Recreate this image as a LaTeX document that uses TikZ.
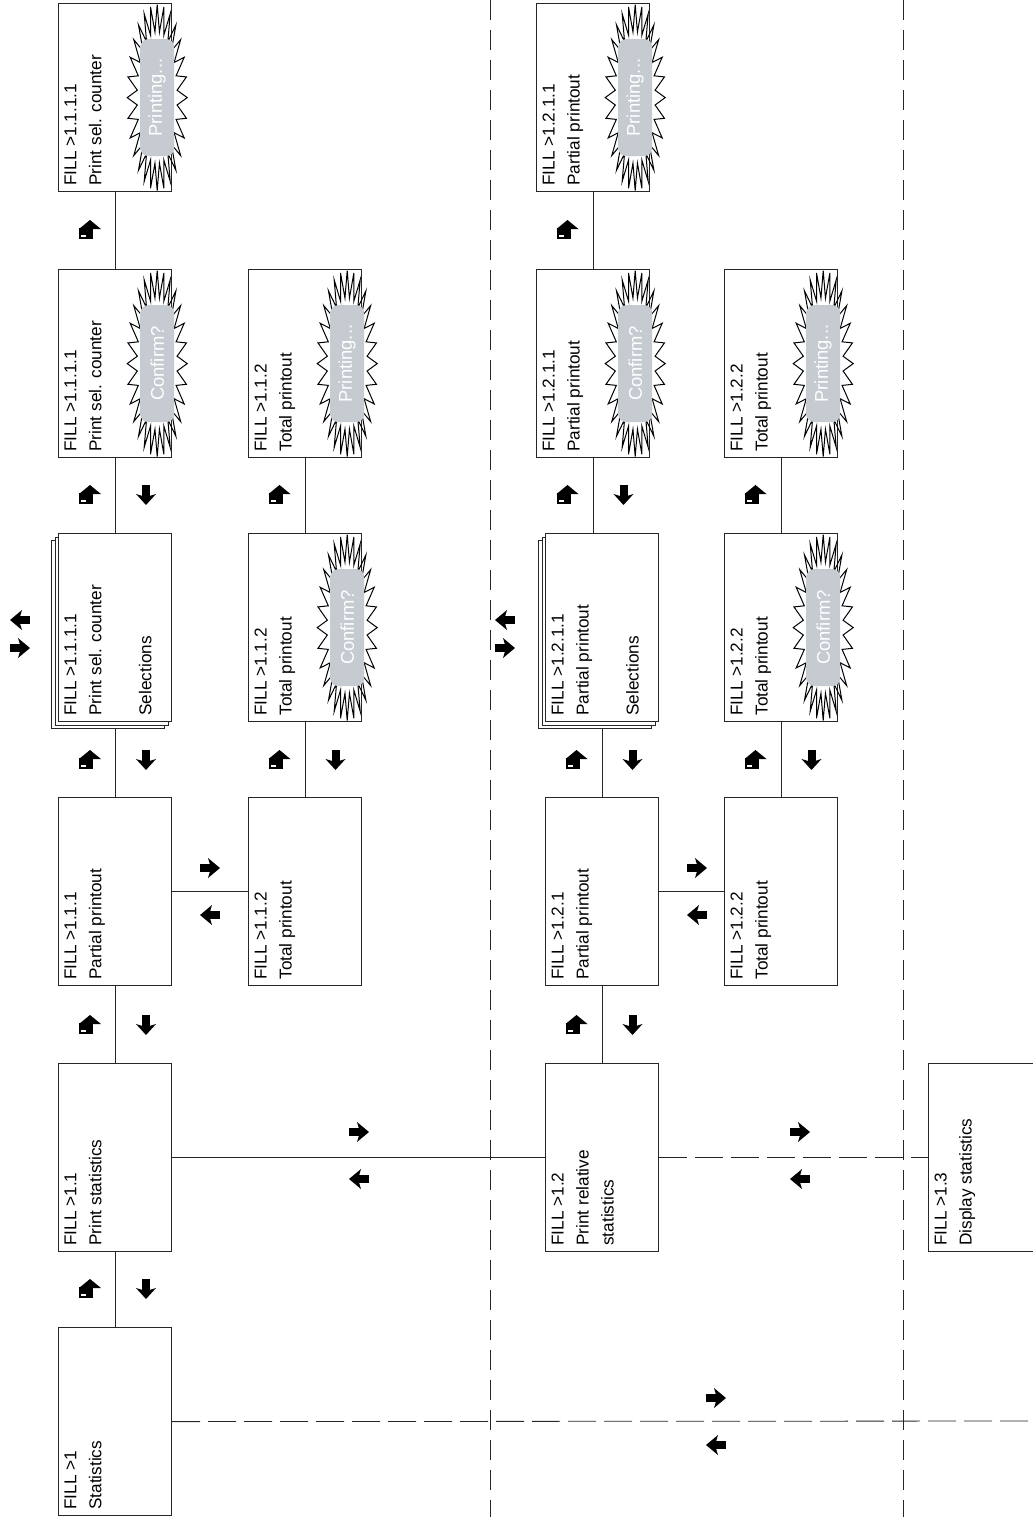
\documentclass[tikz,border=0pt]{standalone}
\usepackage{fontspec}
\setmainfont{Liberation Sans}
\usetikzlibrary{shadows,backgrounds}
\definecolor{pillgray}{RGB}{197,203,208}

\tikzset{
  % key symbols, drawn in pixel units (y runs down)
  rarr/.pic={\fill (-10,-4) rectangle (3,4); \fill (-2,-10) -- (10,0) -- (-2,10) -- (1,0) -- cycle;},
  larr/.pic={\fill (10,-4) rectangle (-3,4); \fill (2,-10) -- (-10,0) -- (2,10) -- (-1,0) -- cycle;},
  darr/.pic={\fill (-4,-10) rectangle (4,2); \fill (-10,-1) -- (0,10) -- (10,-1) -- (0,2) -- cycle;},
  entarr/.pic={\fill (-11,-1) -- (0,-10) -- (11,-1) -- cycle;
    \fill (-11,-2) rectangle (3,9); \fill[white] (-9,5) rectangle (-4,6.5);},
  burst/.pic={\draw[line width=0.5pt] (0:30 and 93)
      \foreach \i in {0,...,27} { -- ({\i*360/28+180/28}:20 and 66) -- ({(\i+1)*360/28}:30 and 93) } -- cycle;
    \node (-pill) [pill] {#1};}
}

\begin{document}
\begin{tikzpicture}[x=0.5pt, y=-0.5pt, line width=0.6pt,
  menubox/.style={draw=black!85, shape=rectangle, anchor=north west,
    minimum width=56.5pt, minimum height=94pt, inner sep=0pt},
  stackbox/.style={menubox, fill=white,
    double copy shadow={shadow xshift=-1.75pt, shadow yshift=-1.75pt}},
  lbl/.style={rotate=90, anchor=north west, align=left, inner sep=0pt,
    font=\fontsize{8.6}{12.5}\selectfont},
  pill/.style={rotate=90, fill=pillgray, rounded corners=4pt, minimum width=58.5pt,
    minimum height=17pt, inner sep=0pt, text=white, font=\fontsize{9.2}{10}\selectfont},
  link/.style={draw=black!85},
  dashlink/.style={draw=black!85, dash pattern=on 14pt off 4pt},
  sepline/.style={draw=black!85, dash pattern=on 10pt off 5pt}]
\useasboundingbox (0,0) rectangle (1033,1517);

% column 1.1
\node (b1) [menubox] at (58,1327) {};
\node (b11) [menubox] at (58,1063) {};
\node (b111) [menubox] at (58,797) {};
\node (b1111) [stackbox] at (58,533) {};
\node (b1111c) [menubox] at (58,269) {};
\node (b1111p) [menubox] at (58,3) {};
\node (b112) [menubox] at (248,797) {};
\node (b112c) [menubox] at (248,533) {};
\node (b112p) [menubox] at (248,269) {};
% column 1.2
\node (b12) [menubox] at (545,1063) {};
\node (b121) [menubox] at (545,797) {};
\node (b1211) [stackbox] at (545,533) {};
\node (b1211c) [menubox] at (536,269) {};
\node (b1211p) [menubox] at (536,3) {};
\node (b122) [menubox] at (724,797) {};
\node (b122c) [menubox] at (724,533) {};
\node (b122p) [menubox] at (724,269) {};
% column 1.3
\node (b13) [menubox, minimum width=52.25pt] at (928,1063) {};
\coordinate (rend) at (1033,1421);

% texts
\node (t1) [lbl] at ([shift={(6,-6)}]b1.south west) {FILL >1\\Statistics};
\node (t11) [lbl] at ([shift={(6,-6)}]b11.south west) {FILL >1.1\\Print statistics};
\node (t111) [lbl] at ([shift={(6,-6)}]b111.south west) {FILL >1.1.1\\Partial printout};
\node (t1111) [lbl] at ([shift={(6,-6)}]b1111.south west) {FILL >1.1.1.1\\Print sel. counter\\[12.5pt]Selections};
\node (t1111c) [lbl] at ([shift={(6,-6)}]b1111c.south west) {FILL >1.1.1.1\\Print sel. counter};
\node (t1111p) [lbl] at ([shift={(6,-6)}]b1111p.south west) {FILL >1.1.1.1\\Print sel. counter};
\node (t112) [lbl] at ([shift={(6,-6)}]b112.south west) {FILL >1.1.2\\Total printout};
\node (t112c) [lbl] at ([shift={(6,-6)}]b112c.south west) {FILL >1.1.2\\Total printout};
\node (t112p) [lbl] at ([shift={(6,-6)}]b112p.south west) {FILL >1.1.2\\Total printout};
\node (t12) [lbl] at ([shift={(6,-6)}]b12.south west) {FILL >1.2\\Print relative\\statistics};
\node (t121) [lbl] at ([shift={(6,-6)}]b121.south west) {FILL >1.2.1\\Partial printout};
\node (t1211) [lbl] at ([shift={(6,-6)}]b1211.south west) {FILL >1.2.1.1\\Partial printout\\[12.5pt]Selections};
\node (t1211c) [lbl] at ([shift={(6,-6)}]b1211c.south west) {FILL >1.2.1.1\\Partial printout};
\node (t1211p) [lbl] at ([shift={(6,-6)}]b1211p.south west) {FILL >1.2.1.1\\Partial printout};
\node (t122) [lbl] at ([shift={(6,-6)}]b122.south west) {FILL >1.2.2\\Total printout};
\node (t122c) [lbl] at ([shift={(6,-6)}]b122c.south west) {FILL >1.2.2\\Total printout};
\node (t122p) [lbl] at ([shift={(6,-6)}]b122p.south west) {FILL >1.2.2\\Total printout};
\node (t13) [lbl] at ([shift={(6,-6)}]b13.south west) {FILL >1.3\\Display statistics};

% confirm / printing bursts
\pic (s1111c) at ([xshift=-7.5pt]b1111c.east) {burst=Confirm?};
\pic (s1111p) at ([xshift=-7.5pt]b1111p.east) {burst=Printing...};
\pic (s112c) at ([xshift=-7.5pt]b112c.east) {burst=Confirm?};
\pic (s112p) at ([xshift=-7.5pt]b112p.east) {burst=Printing...};
\pic (s1211c) at ([xshift=-7.5pt]b1211c.east) {burst=Confirm?};
\pic (s1211p) at ([xshift=-7.5pt]b1211p.east) {burst=Printing...};
\pic (s122c) at ([xshift=-7.5pt]b122c.east) {burst=Confirm?};
\pic (s122p) at ([xshift=-7.5pt]b122p.east) {burst=Printing...};

% connectors
\begin{scope}[on background layer]
\draw[link] (b1) -- (b11);
\draw[link] (b11) -- (b111);
\draw[link] (b111) -- (b1111);
\draw[link] (b1111) -- (b1111c);
\draw[link] (b1111c) -- (b1111p);
\draw[link] (b111) -- (b112);
\draw[link] (b112) -- (b112c);
\draw[link] (b112c) -- (b112p);
\draw[link] (b11) -- (b12);
\draw[link] (b12) -- (b121);
\draw[link] (b121) -- (b1211);
\draw[link] (b1211c.south) -- (b1211c.south |- b1211.north);
\draw[link] (b1211c) -- (b1211p);
\draw[link] (b121) -- (b122);
\draw[link] (b122) -- (b122c);
\draw[link] (b122c) -- (b122p);
\draw[dashlink] (b12) -- (b13);
\draw[dashlink] (b1.east) -- (rend);
\draw[sepline] (490,0) -- (490,1517);
\draw[sepline] (903,0) -- (903,1517);
\end{scope}

% key symbols
\foreach \x/\y in {115/1289, 115/1025, 115/760, 115/495, 304.5/760, 601.5/1025, 601.5/760, 592.5/495, 780.5/760} {
  \pic at (\x-25,\y) {entarr};
  \pic at (\x+31,\y) {darr};
}
\foreach \x/\y in {115/230, 304.5/495, 592.5/230, 780.5/495}
  \pic at (\x-25,\y) {entarr};
\foreach \x/\y in {210/868, 359/1132, 697/868, 800/1132, 716/1398} {
  \pic at (\x,\y) {rarr};
  \pic at (\x,\y+47) {larr};
}
\foreach \x/\y in {20/620, 505/620} {
  \pic at (\x,\y) {larr};
  \pic at (\x,\y+28) {rarr};
}
\end{tikzpicture}
\end{document}
